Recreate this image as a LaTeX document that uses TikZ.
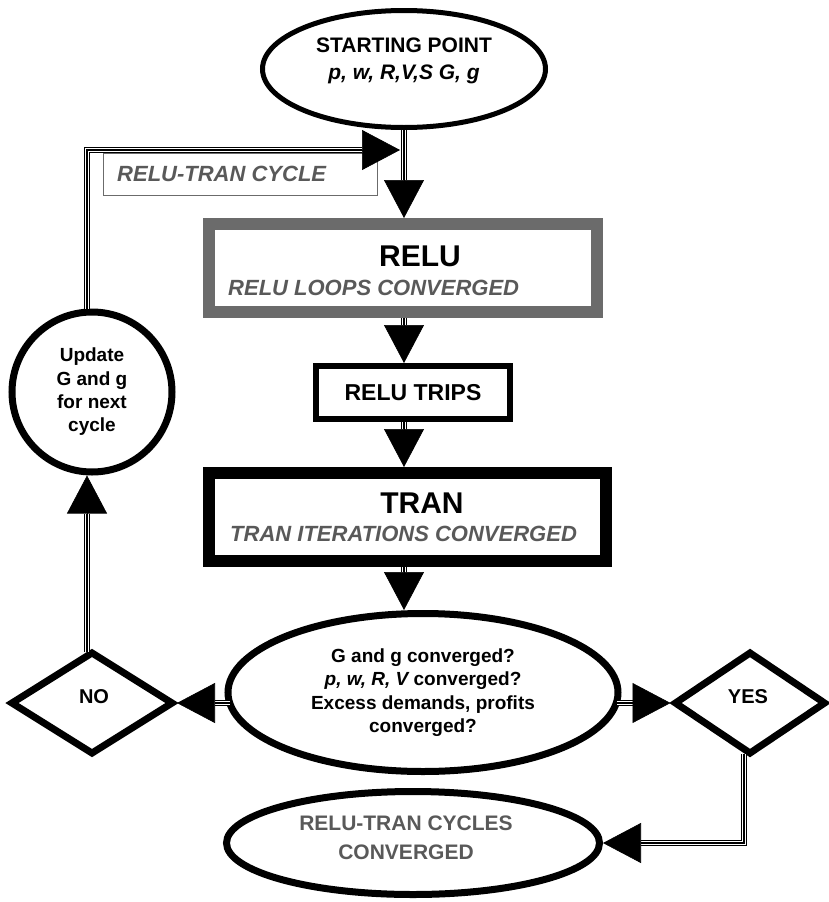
\documentclass[tikz,border=0pt]{standalone}
\usepackage{fontspec}
\setmainfont{Liberation Sans}
\usetikzlibrary{shapes.geometric,arrows.meta,calc}
\definecolor{txtgray}{HTML}{595959}
\definecolor{boxgray}{HTML}{6B6B6B}
\newcommand\fsz[2]{\fontsize{#1}{#2}\selectfont}
\newcommand\tri[1]{\draw[tline]#1;\draw[cline]#1;}
\begin{document}
\begin{tikzpicture}[x=1pt,y=-1pt,
  every node/.style={inner sep=0pt},
  tline/.style={double=white, double distance=3.2pt, line width=1.5pt},
  cline/.style={line width=1.2pt},
  head/.style={line width=0.6pt, -{Triangle[length=38pt,width=40pt]}},
  oval/.style={draw, ellipse, line width=7pt},
  decide/.style={draw, diamond, line width=7pt, minimum width=160pt, minimum height=103pt},
  dtxt/.style={font=\bfseries\fsz{20}{24}},
  subtxt/.style={anchor=west, text=txtgray, font=\bfseries\itshape\fsz{22}{26}},
  bigtxt/.style={font=\bfseries\fsz{30}{36}}
]
\useasboundingbox (0,0) rectangle (828,902);

% nodes
\node[draw, ellipse, line width=5pt, minimum width=283pt, minimum height=117pt] (start) at (404,69) {};
\node[align=center, font=\bfseries\fsz{21}{27}] (starttxt) at (404,61) {STARTING POINT\\{\itshape p, w, R,V,S G, g}};

\node[draw=boxgray, line width=1.2pt, minimum width=274pt, minimum height=42pt] (cyc) at (240.5,174.5) {};
\node[subtxt] (cyctxt) at (117,174) {RELU-TRAN CYCLE};

\node[draw=boxgray, line width=12pt, minimum width=388pt, minimum height=88pt] (relu) at (403,268) {};
\node[bigtxt] (relutxt) at (420,256) {RELU};
\node[subtxt] (relusub) at (228,288) {RELU LOOPS CONVERGED};

\node[draw, line width=6pt, minimum width=194pt, minimum height=53pt, font=\bfseries\fsz{23}{28}] (trips) at (413,392.5) {RELU TRIPS};

\node[draw, line width=12pt, minimum width=397pt, minimum height=88pt] (tran) at (407.5,517) {};
\node[bigtxt] (trantxt) at (422,503) {TRAN};
\node[subtxt] (transub) at (230,534) {TRAN ITERATIONS CONVERGED};

\node[oval, minimum width=390pt, minimum height=158pt, align=center, font=\bfseries\fsz{19}{23.3}] (mid) at (423,692.5)
  {G and g converged?\\{\itshape p, w, R, V} converged?\\Excess demands, profits\\converged?};

\node[decide, minimum width=163pt] (no) at (92,703) {};
\node[dtxt] (notxt) at (94,697) {NO};
\node[decide, minimum width=152pt] (yes) at (750,703) {};
\node[dtxt] (yestxt) at (748,697) {YES};

\node[draw, circle, line width=7pt, minimum size=160pt, align=center, font=\bfseries\fsz{19}{23.3}] (circ) at (92,392)
  {Update\\G and g\\for next\\cycle};

\node[oval, minimum width=373pt, minimum height=103pt] (final) at (413,843) {};
\node[align=center, font=\bfseries\fsz{21}{29}, text=txtgray] (finaltxt) at (406,838)
  {RELU-TRAN CYCLES\\CONVERGED};

% helper coordinates
\coordinate (col) at (404,0);
\coordinate (lx) at (87,0);
\coordinate (j) at (400,150);

% main column
\tri{(start.south -| col) -- ($(relu.north -| col)+(0,-38)$)}
\draw[head] ($(relu.north -| col)+(0,-38)$) -- (relu.north -| col);
\tri{(relu.south -| col) -- ($(trips.north -| col)+(0,-38)$)}
\draw[head] ($(trips.north -| col)+(0,-38)$) -- (trips.north -| col);
\tri{(trips.south -| col) -- ($(tran.north -| col)+(0,-38)$)}
\draw[head] ($(tran.north -| col)+(0,-38)$) -- (tran.north -| col);
\tri{(tran.south -| col) -- ($(mid.north -| col)+(0,-38)$)}
\draw[head] ($(mid.north -| col)+(0,-38)$) -- (mid.north -| col);

% decisions
\tri{($(mid.west |- no.east)+(5,0)$) -- ($(no.east)+(38,0)$)}
\draw[head] ($(no.east)+(38,0)$) -- (no.east);
\tri{($(mid.east |- yes.west)+(-5,0)$) -- ($(yes.west)+(-38,0)$)}
\draw[head] ($(yes.west)+(-38,0)$) -- (yes.west);

% yes -> final
\tri{($(yes.south)+(-6,-4)$) |- ($(final.east)+(38,0)$)}
\draw[head] ($(final.east)+(38,0)$) -- (final.east);

% loop back
\tri{($(no.north -| lx)+(0,4)$) -- ($(circ.south -| lx)+(0,38)$)}
\draw[head] ($(circ.south -| lx)+(0,38)$) -- (circ.south -| lx);
\tri{(circ.north -| lx) |- ($(j)+(-38,0)$)}
\draw[head] ($(j)+(-38,0)$) -- (j);
\end{tikzpicture}
\end{document}
